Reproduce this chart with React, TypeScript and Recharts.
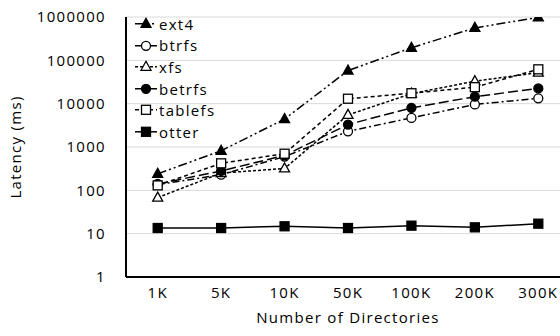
import React from 'react';
import { LineChart, Line, XAxis, YAxis, CartesianGrid, Legend } from 'recharts';

// Directory counts on the x axis
const categories = ['1K', '5K', '10K', '50K', '100K', '200K', '300K'];

// Latency in milliseconds for each file system
const ext4 = [240, 820, 4400, 58000, 195000, 560000, 980000];
const btrfs = [135, 230, 600, 2300, 4700, 9600, 13300];
const xfs = [68, 250, 320, 5500, 17000, 33000, 52000];
const betrfs = [140, 280, 640, 3300, 8000, 14500, 22500];
const tablefs = [130, 420, 700, 13000, 17400, 24000, 62000];
const otter = [13.5, 13.5, 14.8, 13.5, 15.3, 14, 17];

const yTicks = [1, 10, 100, 1000, 10000, 100000, 1000000];

const seriesNames = ['ext4', 'btrfs', 'xfs', 'betrfs', 'tablefs', 'otter'];
const seriesValues: Record<string, number[]> = { ext4, btrfs, xfs, betrfs, tablefs, otter };

type Shape = 'triangle' | 'circle' | 'square';
const seriesStyle: Record<string, { dash?: string; shape: Shape; filled: boolean }> = {
  ext4: { dash: '9 3 2 3 2 3', shape: 'triangle', filled: true },
  btrfs: { dash: '7 3 2 3', shape: 'circle', filled: false },
  xfs: { dash: '3 2', shape: 'triangle', filled: false },
  betrfs: { dash: '10 4', shape: 'circle', filled: true },
  tablefs: { dash: '4 3', shape: 'square', filled: false },
  otter: { shape: 'square', filled: true },
};

const data = categories.map((c, i) => {
  const row: Record<string, string | number> = { name: c };
  seriesNames.forEach((s) => {
    row[s] = seriesValues[s][i];
  });
  return row;
});

function Marker({ shape, filled, cx, cy }: { shape: Shape; filled: boolean; cx: number; cy: number }) {
  const fill = filled ? '#000' : '#fff';
  const common = { fill, stroke: '#000', strokeWidth: 1.3 };
  if (shape === 'triangle') {
    return <polygon points={`${cx},${cy - 5.5} ${cx + 5},${cy + 3.5} ${cx - 5},${cy + 3.5}`} {...common} />;
  }
  if (shape === 'circle') {
    return <circle cx={cx} cy={cy} r={4.5} {...common} />;
  }
  return <rect x={cx - 4.5} y={cy - 4.5} width={9} height={9} {...common} />;
}

function LegendBox() {
  return (
    <div>
      {seriesNames.map((s) => {
        const st = seriesStyle[s];
        return (
          <div key={s} style={{ display: 'flex', alignItems: 'center', height: 21.6 }}>
            <svg width={25} height={21.6} style={{ display: 'block' }}>
              <line x1={2} y1={10.8} x2={24} y2={10.8} stroke="#000" strokeWidth={1.5} strokeDasharray={st.dash} />
              <Marker shape={st.shape} filled={st.filled} cx={13} cy={10.8} />
            </svg>
            <span style={{ fontSize: 15, color: '#000', marginLeft: 1 }}>{s}</span>
          </div>
        );
      })}
    </div>
  );
}

export default function App() {
  return (
    <div
      style={{
        position: 'absolute',
        left: 0,
        top: 0,
        width: 560,
        height: 336,
        overflow: 'hidden',
        background: '#fff',
        fontFamily: '"Open Sans", sans-serif',
        letterSpacing: 1.3,
      }}
    >
      <LineChart width={580} height={336} data={data} margin={{ top: 17, right: 10, bottom: 0, left: 0 }}>
        <CartesianGrid vertical={false} stroke="#d9d9d9" strokeWidth={1} />
        <XAxis
          dataKey="name"
          height={59}
          padding={{ left: 31.7, right: 31.7 }}
          tickLine={false}
          tickSize={0}
          tickMargin={10}
          axisLine={{ stroke: '#000', strokeWidth: 2 }}
          tick={{ fill: '#000', fontSize: 15 }}
          interval={0}
          label={{ value: 'Number of Directories', position: 'insideBottom', offset: 13, fill: '#000', fontSize: 15 }}
        />
        <YAxis
          type="number"
          scale="log"
          domain={[1, 1000000]}
          ticks={yTicks}
          allowDataOverflow
          width={126}
          tickLine={false}
          tickSize={0}
          tickMargin={20}
          axisLine={{ stroke: '#000', strokeWidth: 2 }}
          tick={{ fill: '#000', fontSize: 15 }}
          tickFormatter={(v: number) => String(v)}
          label={{
            value: 'Latency (ms)',
            angle: -90,
            position: 'insideLeft',
            offset: 16,
            fill: '#000',
            fontSize: 15,
            style: { textAnchor: 'middle' },
          }}
        />
        <Legend
          layout="vertical"
          align="center"
          verticalAlign="middle"
          wrapperStyle={{ top: 13, left: 133, width: 100 }}
          content={() => <LegendBox />}
        />
        {seriesNames.map((s) => {
          const st = seriesStyle[s];
          return (
            <Line
              key={s}
              dataKey={s}
              stroke="#000"
              strokeWidth={1.5}
              strokeDasharray={st.dash}
              isAnimationActive={false}
              dot={(p: any) => <Marker key={`${s}-${p.index}`} shape={st.shape} filled={st.filled} cx={p.cx} cy={p.cy} />}
              activeDot={false}
            />
          );
        })}
      </LineChart>
    </div>
  );
}
